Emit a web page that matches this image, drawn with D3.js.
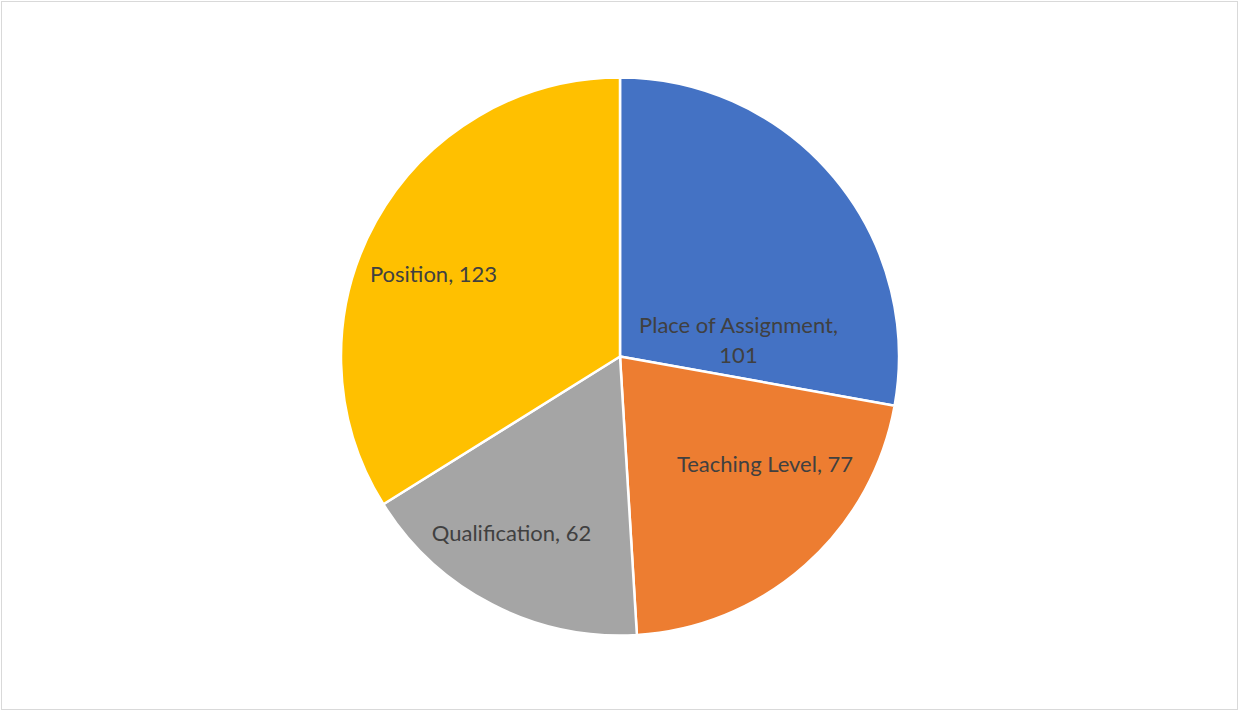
<!DOCTYPE html>
<html lang="en">
<head>
  <meta charset="UTF-8">
  <title>Pie chart</title>
  <style type="text/css">
    body{
      margin: 0;
      background: #fff;
      font-family: Lato, "Open Sans", sans-serif;
    }
    .label{
      font-size: 22px;
      fill: #404040;
    }
  </style>
  <script type="text/javascript" src="https://d3js.org/d3.v7.min.js"></script>
</head>
<body>
<script type="text/javascript">
  // data
  var categories = ['Place of Assignment', 'Teaching Level', 'Qualification', 'Position'];
  var values = [101, 77, 62, 123];
  var colors = ['#4472C4', '#ED7D31', '#A5A5A5', '#FFC000'];

  // label layout (offset from pie centre, one array of lines per slice)
  var labelLines = [['Place of Assignment,', '101'], null, null, null];
  var labelOffset = [[118.5, -23.5], [145, 115], [-108.5, 184], [-186.5, -75]];
  var lineGap = 30;

  var width = 1239, height = 711;
  var cx = 620, cy = 356.5, radius = 279;

  var svg = d3.select('body')
    .append('svg')
    .attr('width', width)
    .attr('height', height);

  // chart area border
  svg.append('rect')
    .attr('x', 1.5)
    .attr('y', 1.5)
    .attr('width', width - 3)
    .attr('height', height - 3)
    .attr('fill', '#fff')
    .attr('stroke', '#d9d9d9')
    .attr('stroke-width', 1);

  var pie = d3.pie().sort(null).value(function(d){ return d; });
  var arc = d3.arc().innerRadius(0).outerRadius(radius);

  var g = svg.append('g')
    .attr('transform', 'translate(' + cx + ',' + cy + ')');

  g.selectAll('.slice')
    .data(pie(values))
    .enter().append('path')
    .attr('class', 'slice')
    .attr('d', arc)
    .attr('fill', function(d, i){ return colors[i]; })
    .attr('stroke', '#fff')
    .attr('stroke-width', 2.5)
    .attr('stroke-linejoin', 'round');

  var labels = g.selectAll('.label')
    .data(values)
    .enter().append('text')
    .attr('class', 'label')
    .attr('text-anchor', 'middle')
    .attr('transform', function(d, i){
      return 'translate(' + labelOffset[i][0] + ',' + labelOffset[i][1] + ')';
    });

  labels.each(function(d, i){
    var lines = labelLines[i] || [categories[i] + ', ' + d];
    var t = d3.select(this);
    lines.forEach(function(line, j){
      t.append('tspan')
        .attr('x', 0)
        .attr('y', j * lineGap)
        .text(line);
    });
  });
</script>
</body>
</html>
